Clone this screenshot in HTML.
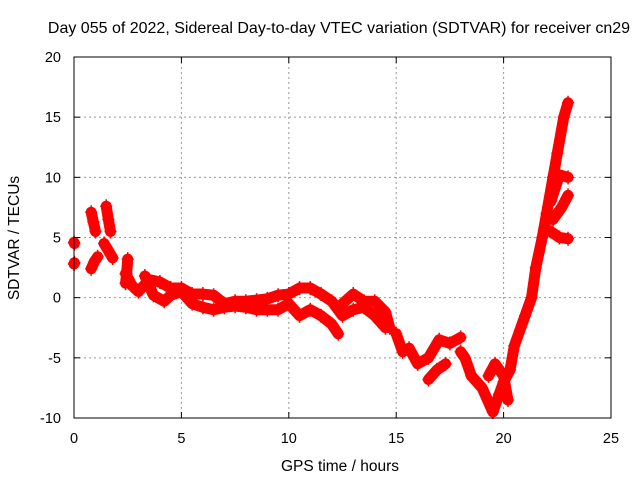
<!DOCTYPE html>
<html><head><meta charset="utf-8"><style>
body{margin:0;background:#fff}
svg{display:block;font-family:"Liberation Sans",sans-serif}
</style></head><body>
<svg id="chart" width="640" height="480">
<text x="339" y="33" font-size="16" text-anchor="middle">Day 055 of 2022, Sidereal Day-to-day VTEC variation (SDTVAR) for receiver cn29</text>
<g id="grid"></g>
<g id="marks"></g>
<rect x="74" y="57" width="537" height="361" fill="none" stroke="#000" stroke-width="1"/>
<g id="axes"></g>
<text x="340" y="471" font-size="15.5" text-anchor="middle">GPS time / hours</text>
<text transform="translate(19,238) rotate(-90)" font-size="15.5" text-anchor="middle">SDTVAR / TECUs</text>
</svg>
<script>
const xTicks=[0,5,10,15,20,25];
const yTicks=[-10,-5,0,5,10,15,20];
const early1H=[0,0.02];const early1V=[4.6,4.5];
const early2H=[0,0.02];const early2V=[2.8,2.9];
const s3H=[0.8,0.9,1.0];const s3V=[7.1,6.3,5.5];
const s4H=[0.8,0.95,1.1];const s4V=[2.4,3.0,3.4];
const s5H=[1.5,1.6,1.7];const s5V=[7.6,6.5,5.5];
const s6H=[1.4,1.6,1.8];const s6V=[4.5,3.9,3.3];
const s7H=[2.5,2.45,2.4];const s7V=[3.2,2.0,1.2];
const trAH=[2.4,2.7,3.0,3.5,4.0,4.5,5.0,5.5,6,6.5,7,7.5,8,8.5,9,9.5,10,10.5,11,11.5,12,12.5,13,13.5,14,14.5];
const trAV=[2.0,1.0,0.5,1.5,1.3,0.8,0.8,0.3,0.3,0.2,-0.5,-0.3,-0.3,-0.2,-0.1,0.2,0.3,0.8,0.8,0.3,-0.3,-1.5,-1.0,-0.8,-1.5,-2.5];
const trBH=[3.3,3.7,4.2,4.5,5,5.5,6,6.5,7,7.5,8,8.5,9,9.5,10,10.5,11,11.5,12,12.3];
const trBV=[1.8,0.2,-0.3,0.2,0.5,-0.5,-0.8,-1.0,-0.8,-0.7,-0.8,-1.0,-1.0,-1.0,-0.5,-1.5,-1.0,-1.5,-2.2,-3.0];
const trCH=[12.5,13,13.5,14,14.5,14.7];
const trCV=[-0.5,0.3,-0.3,-0.3,-1.2,-2.5];
const trDH=[15,15.3,15.6,16,16.5,17,17.5,18];
const trDV=[-3,-4.5,-4.2,-5.5,-5,-3.5,-3.8,-3.3];
const trEH=[16.5,16.9,17.3];const trEV=[-6.8,-6.0,-5.5];
const trFH=[18,18.2,18.5];const trFV=[-4.5,-5,-6.5];
const trGH=[18.5,19,19.5,19.8,20,20.3,20.5,21,21.3,21.5,21.8,22,22.3,22.5,22.8,23];
const trGV=[-6.5,-7.5,-9.5,-8,-7,-6,-4,-1.5,0,2.5,5,7,10,12,15,16.2];
const trHH=[19.3,19.6,20.0,20.2];const trHV=[-6.5,-5.5,-6.5,-8.5];
const trIH=[22.2,22.6,23];const trIV=[8,10.2,10];
const trJH=[22.3,22.7,23];const trJV=[6.5,7.5,8.5];
const trKH=[22.2,22.6,23];const trKV=[5.5,5,4.9];
const tracks=[[early1H,early1V],[early2H,early2V],[s3H,s3V],[s4H,s4V],[s5H,s5V],[s6H,s6V],[s7H,s7V],[trAH,trAV],[trBH,trBV],[trCH,trCV],[trDH,trDV],[trEH,trEV],[trFH,trFV],[trGH,trGV],[trHH,trHV],[trIH,trIV],[trJH,trJV],[trKH,trKV]];
const X=h=>74+h*537/25, Y=v=>57+(20-v)*361/30;
const NS="http://www.w3.org/2000/svg";
const grid=document.getElementById('grid'),axes=document.getElementById('axes'),marks=document.getElementById('marks');
function mk(t,a,p){const e=document.createElementNS(NS,t);for(const k in a)e.setAttribute(k,a[k]);p.appendChild(e);return e;}
xTicks.forEach(t=>{const x=X(t);
 if(t>0&&t<25){const g=mk('line',{x1:x,x2:x,y1:57,y2:418,stroke:'#999','stroke-dasharray':'2,3'},grid);
 
 }
 const a=mk('line',{x1:x,x2:x,y1:418,y2:412,stroke:'#000'},axes);
 
 
 const b=mk('line',{x1:x,x2:x,y1:57,y2:63,stroke:'#000'},axes);
 
 
 const l=mk('text',{x:x,y:443,'font-size':14.5,'text-anchor':'middle'},axes);l.textContent=t;
 
 });
yTicks.forEach(t=>{const y=Y(t);
 if(t>-10&&t<20){const g=mk('line',{x1:74,x2:611,y1:y,y2:y,stroke:'#999','stroke-dasharray':'2,3'},grid);
 
 }
 const a=mk('line',{x1:74,x2:80,y1:y,y2:y,stroke:'#000'},axes);
 
 
 const b=mk('line',{x1:605,x2:611,y1:y,y2:y,stroke:'#000'},axes);
 
 
 const l=mk('text',{x:61,y:y+5,'font-size':14.5,'text-anchor':'end'},axes);l.textContent=t;
 
 });
tracks.forEach(([hs,vs])=>{
 const pts=hs.map((h,i)=>X(h)+','+Y(vs[i])).join(' ');
 const p=mk('polyline',{points:pts,fill:'none',stroke:'#f00','stroke-width':11,'stroke-linejoin':'round','stroke-linecap':'round'},marks);
 
 
 hs.forEach((h,i)=>{const x=X(h),y=Y(vs[i]);
  const m=mk('path',{d:`M${x-6},${y}H${x+6}M${x},${y-7}V${y+7}`,stroke:'#f00','stroke-width':1.5},marks);
  
  });
});
</script>
</body></html>
